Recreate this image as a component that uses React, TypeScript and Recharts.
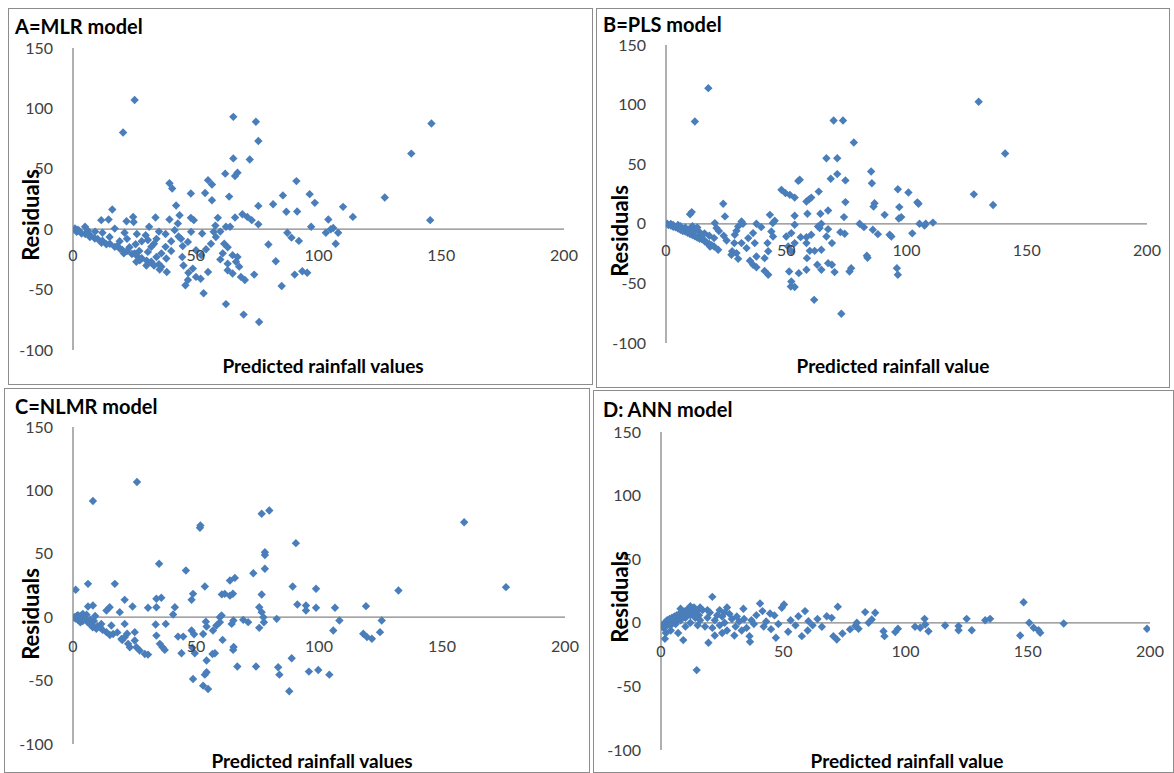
import React from 'react';
import { ScatterChart, Scatter, XAxis, YAxis, ReferenceLine } from 'recharts';

const xTicks = [0, 50, 100, 150, 200];
const yTicks = [-100, -50, 0, 50, 100, 150];

// A = MLR model: [predicted rainfall, residual]
const mlrPoints: [number, number][] = [
  [25.1, 107], [20.4, 80], [65.3, 93], [74.5, 89], [75.5, 73], [65.3, 58.6], [72, 57.7], [62, 46], [67, 46.7], [66, 44],
  [39.3, 38], [40.4, 33.7], [48, 29.6], [55, 40.6], [56.6, 37], [53.8, 30], [56.6, 24], [63.6, 27], [42, 19.6], [43.4, 11.6],
  [48, 9.4], [49.2, 7.5], [16, 16.3], [11.5, 7.5], [14.5, 8], [21.8, 6.6], [24.5, 10.2], [24.7, 6], [33.6, 9.7], [39.3, 8],
  [59, 9.4], [62.3, 2], [66, 9.7], [69, 12.4], [71, 10.2], [72.8, 7.5], [75.5, 19.3], [75.5, 4], [81.5, 20.7], [85.5, 28],
  [86.9, 14.4], [91, 39.8], [91.3, 14.6], [96.4, 29], [98.5, 21.8], [97, 2], [104, 8], [105, 0], [106, 1], [110, 18.5],
  [107, -12], [87.3, -3], [89, -7], [92, -9.7], [79.6, -12.7], [82.6, -26.5], [85, -47], [90.3, -37.6], [93.4, -34.8], [95.4, -36],
  [73.8, -37.6], [70, -42], [69.5, -70.7], [75.8, -76.8], [62.3, -62], [53.2, -53], [45.8, -46.4], [46.8, -42], [50.1, -39.5], [52, -41],
  [48.8, -32.6], [55, -35.4], [61, -20], [61.6, -12], [63, -28.5], [65, -21.5], [66.4, -27], [67.7, -31], [65, -36.7], [68.4, -39.5],
  [63, -34], [64, 2], [57.3, -2.2], [58.2, -6.4], [56.2, -12], [54.2, -16.6], [52.2, -21.5], [50.1, -17.4], [46.8, -10.5], [44.7, -14],
  [44.5, -23], [48.1, -2.2], [52.6, -3.6], [42.7, 4.7], [41.4, -0.8], [37.7, -4], [37.7, -14.6], [38, -24.3], [38.2, -35.4], [35.3, -33.4],
  [34, -23], [31.9, -14.6], [30.5, -9], [29.6, -5], [30.5, -18.8], [31.9, -27], [29.9, -30], [27.2, -25.7], [25.8, -27], [25.1, -20],
  [25.5, -12.4], [21, -3], [20.7, -20], [17, 0.5], [14.9, -6.4], [17, -14.6], [19, -16], [13.6, -12.4], [11.6, -11.3], [8.9, -7.7],
  [6.9, -6.4], [4.9, 2], [3.5, -3.6], [1.5, -2.2], [0.8, 0.6],
  [146, 87.5], [137.8, 62.6], [127, 26.2], [114, 10.2], [145.5, 7.5], [108, -3], [103, -3],
  [2.5, -1.5], [5, -4], [7, -5], [10, -8], [12, -9.5], [15, -12], [18, -14], [20, -17], [22, -18], [24, -20.5],
  [26, -22], [28, -24], [30, -26], [32, -28], [33, -30], [35, -29], [36, -31], [23, -15], [27, -18], [19, -10],
  [22, -8], [28, -10], [33, -12], [34, -8], [36, -20], [40, -10], [40, -18], [43, -6], [45, -30], [47, -36],
  [44, -8], [58, 3], [60, -2], [60, -25], [63, -15], [67, -23], [35, -2], [31, 2], [26, -4], [12, -3],
  [9, -2], [6, -1], [2, -0.5],
];

// B = PLS model
const plsPoints: [number, number][] = [
  [17.6, 113.8], [12, 85.8], [69.7, 86.7], [73.6, 86.7], [78.1, 68.2], [66.7, 55], [71.2, 55], [71.2, 41.7], [68.5, 37.8], [74.6, 36.4],
  [85.3, 43.9], [85.6, 34], [96.4, 29], [100.8, 26.3], [55.6, 37], [55, 36], [48, 28.5], [49.7, 25.7], [51.5, 24.3], [53.5, 22],
  [63.5, 27], [60.4, 22], [58.4, 18.7], [59.5, 20.5], [74.6, 18.2], [86.7, 17.3], [86.3, 14.5], [97, 14], [105, 16.8], [90.9, 7.5],
  [97.8, 5.6], [96.8, 4.5], [67.4, 11.2], [64.2, 8.4], [58.8, 8.4], [53.5, 6.7], [43.2, 7.5], [45.2, 2.5], [23.8, 16.8], [24.5, 6.2],
  [10.7, 9.8], [10, 8], [20.3, 0.6], [21, -3.6], [31.4, 2], [32, 0], [37.6, 0], [39.6, -2.8], [44.4, 0.6], [74, 5.6],
  [80.5, 0], [82.3, -2.8], [86, -5], [88.1, -8.7], [93, -9.2], [93.7, -10.6], [102.4, -8], [105.4, 0], [107.5, -1.4], [111, 1],
  [72.5, -7], [74.3, -8.4], [67.4, -4.5], [66.7, -10.6], [69, -16.2], [64.6, 0], [63.2, -2.2], [63.9, -3.6], [60.4, -9.2], [58.4, -11.2],
  [58.4, -16.2], [59.8, -22.7], [61.8, -22.7], [64.6, -21.8], [58.6, -28.8], [58.4, -38.6], [55.2, -41.4], [51.2, -40], [52.1, -48.4], [51.9, -52.6],
  [53.5, -53], [61.6, -63.8], [72.9, -75.5], [69, -34.4], [70.1, -40.5], [62.9, -34.4], [64.6, -38.6], [77, -37.2], [76.3, -40], [83.5, -26.8],
  [83.8, -28.5], [96, -37.2], [96.4, -42.8], [67.4, -33], [56, -11.2], [52.1, -7.8], [50, -10.6], [53.5, -16.2], [50.8, -19], [52.1, -23],
  [53.5, -0.8], [43.8, -6.4], [44.5, -10.6], [42.2, -16.2], [42.5, -23], [41, -28.8], [42.5, -42.8], [41, -39.5], [37.6, -27.4], [36.2, -34.4],
  [37.6, -36.4], [34.9, -31], [36.9, -16.2], [36.2, -7.8], [34.2, -12], [33.5, -20.4], [31.4, -16.2], [29.3, -5.9], [30, -2.2], [28.6, -9.2],
  [28.4, -16.2], [29.3, -24.6], [30, -29.4], [27.2, -26], [27.5, -23], [25.2, -14], [21.7, -21.8], [18.3, -19], [16.2, -14.8], [14.8, -9.2],
  [130, 102.4], [141, 59], [128, 24.7], [136, 15.8], [104.5, 18], [108, 0],
  [0.5, 0], [1, -1], [2, -1.5], [3, -2.5], [4, -3], [5, -4], [6, -5], [7, -6], [8, -6.5], [9, -7.5],
  [10, -8.5], [11, -9.5], [12, -10.5], [13, -11.5], [14, -12.5], [15, -13], [16, -14], [17, -16], [18, -17], [19, -18],
  [20, -19], [3, -1], [6, -2], [8, -3], [10, -4], [12, -6], [14, -7], [11, -2], [16, -8], [18, -10],
  [20, -12], [22, -6], [24, -10], [5, -1], [2, -0.2], [13, -3],
];

// C = NLMR model
const nlmrPoints: [number, number][] = [
  [26, 106.6], [8.1, 91.6], [51.8, 72.4], [51.6, 70.5], [76.7, 81.6], [79.8, 84.2], [90.6, 58.4], [78, 51.3], [78, 49], [78, 38.2],
  [73.3, 34.7], [35, 42.1], [45.9, 36.8], [65.8, 31], [63.8, 29], [61.7, 18.4], [63.8, 17], [65, 18.5], [60.5, 18], [53.6, 24.2],
  [48.8, 18.4], [48.2, 13.7], [76.7, 17.9], [89.3, 24.2], [98.8, 22.4], [91.2, 10], [94.7, 9.2], [94.7, 5.3], [98.8, 7.4], [106.5, 7.4],
  [108.3, -2.6], [105.8, -10.5], [104.2, -45.3], [99.7, -41.6], [95.9, -42.9], [87.9, -58.4], [88.9, -32.4], [83.9, -45.3], [83.4, -39.5], [74.4, -38.9],
  [66.8, -38.9], [65.1, -25.8], [65.3, -23.5], [60.8, -17.9], [57.7, -28.4], [56.7, -29], [54.3, -34.2], [54.3, -43.4], [53.6, -45.3], [52.9, -54],
  [54.9, -56.6], [48.8, -48.7], [49.5, -28.4], [48.5, -24], [44.1, -28.4], [42.7, -15.3], [44.8, -15.3], [48.2, -10.5], [49.2, -13.5], [52.9, -13.2],
  [54.3, -7.4], [54, -3.5], [56.9, -10.5], [58.3, -6.6], [59.7, 0], [60.4, 1.3], [59.7, -4], [64.5, -5.3], [65.2, -2.6], [69.2, -2.1],
  [71.2, -3.9], [75.7, -8.4], [75.7, 7.9], [76.7, 4], [77.4, 0], [77.6, -4], [82.8, -1.3], [41.4, 7.9], [40.7, 2.1], [37.7, -5.3],
  [33.6, -5.8], [33.9, -14.5], [35.3, -21], [36.4, -23.7], [37.3, -25.8], [33.9, 14.5], [35.9, 15.3], [33.9, 7.9], [30.5, 7.4], [24.2, 8.4],
  [21, 13.7], [21, -5.3], [17, 26.3], [14.9, 7.9], [13.6, 5.3], [8.1, 9.2], [6.1, 8.4], [6.1, 26.3], [1.1, 21.6], [25.1, -11.8],
  [25.1, -18.4], [22.4, -21], [23.1, -23.7], [25.8, -23.7], [27.1, -26.3], [29.2, -29], [30.5, -29.5], [21, -15.8], [19.7, -17.1], [16.3, -13.2],
  [15, -14], [13.6, -11.8], [15.6, -6.6], [11.5, -5.3], [9.5, -9.2], [8, -8], [6.8, -5.3],
  [159, 74.9], [176, 23.7], [132.3, 21], [119.1, 8.7], [125.5, -2.6], [124.8, -11.8], [118, -13.1], [119.5, -15.7], [121.5, -17],
  [0.5, 0], [1, -1], [1.5, 1], [2, -2], [2.5, 0.5], [3, -2.5], [3.5, 1.5], [4, -3], [4.5, 0], [5, -1.5],
  [5.5, 2], [6, -4], [7, -2], [7.5, -6], [8.5, -3], [9, 1], [10, -7], [11, -8], [12, -10], [3, -4],
  [2, 1.5], [4, 2.5], [18, -12], [20, -18], [22, -13], [19, 4],
];

// D: ANN model
const annPoints: [number, number][] = [
  [21, 20.4], [148.3, 16.2], [14.6, -37.2], [19.4, -15.7], [9.1, -13.6], [1.6, -12.6], [36.4, -14.9], [36.2, -10.5], [40.5, 15.2], [33.7, 11],
  [50.3, 14.4], [49.4, 11.8], [41.5, 9.2], [44.6, 7.3], [46.4, 5.8], [58.9, 9.2], [56.2, 5.2], [60.3, 1.3], [72.3, 12.6], [67.8, 5.2],
  [69.8, 3.9], [70.5, -10.5], [71.9, -13.1], [65.8, -3.1], [74.2, -8.4], [77.3, -5.2], [79.4, -2.6], [80.8, -4.7], [80.1, 0], [83.5, 8.4],
  [87.6, 7.9], [86.2, 2.6], [84.9, 0], [91, -6.6], [91.4, -10.5], [95.8, -7.3], [96.9, -4.7], [103.9, -3.1], [106, -3.9], [107.8, 3.1],
  [108.1, -1.3], [109.4, -6.6], [116.2, -2.1], [121.7, -2.6], [121.7, -5.8], [125, 3.1], [127.1, -5.8], [132.6, 2], [134.6, 3.1], [146.9, -10],
  [150.6, 0], [152.4, -3.9], [154.4, -5.8], [155.1, -7.9], [164.7, -0.5], [198.8, -4.7],
  [0.5, -2], [1, -4], [1.5, 0], [2, -3], [2.5, 2], [3, -1], [3.5, 3], [4, -2], [4.5, 4], [5, 1],
  [5.5, 5], [6, -1], [6.5, 6], [7, 3], [7.5, 7], [8, 2], [8.5, 8], [9, 5], [9.5, 9], [10, 4],
  [10.5, 10], [11, 7], [11.5, 11], [12, 6], [12.5, 10], [13, 8], [13.5, 12], [14, 4], [14.5, 9], [15, -2],
  [15.5, 6], [16, 2], [17, 10], [18, -3], [19, 4], [20, 8], [21, -4], [22, 2], [23, 6], [24, -2],
  [25, 5], [26, 0], [27, -6], [28, 7], [29, 3], [30, -10], [30.5, -3], [31, 5], [32, 1], [33, -6],
  [34, 3], [35, -4], [37, 2], [38, -1], [39, 6], [42, -3], [43, 1], [45, -5], [47, -11.8], [48, -1],
  [52, -7], [53, 2], [55, -2], [57.6, -10.5], [60, -6], [62, -2], [64, 3], [4, -6], [7, -8], [2, -8],
  [12, 0], [10, -3], [25, -8], [22, -10], [24, 10], [26, 8], [27, 12], [19, 10], [16, 12], [12, 13],
  [8, 11],
];

const POINT_COLOR = '#4a7ebb';
const AXIS_COLOR = '#868686';
const TEXT_COLOR = '#404040';
const FONT = 'Lato, "Open Sans", sans-serif';

const Diamond = (props: any) => {
  const { cx, cy } = props;
  if (cx == null || cy == null) return null;
  const r = 4.2;
  return <path d={`M${cx},${cy - r}L${cx + r},${cy}L${cx},${cy + r}L${cx - r},${cy}Z`} fill={POINT_COLOR} />;
};

type PanelCfg = {
  title: string;
  xTitle: string;
  points: [number, number][];
  left: number; top: number; w: number; h: number;
  plot: { l: number; r: number; t: number; b: number };
  titleXY: [number, number];
  residXY: [number, number];
  xTitleXY: [number, number];
  xLabelDy: number;
};

const panels: PanelCfg[] = [
  {
    title: 'A=MLR model', xTitle: 'Predicted rainfall values', points: mlrPoints,
    left: 8, top: 8, w: 585, h: 377, plot: { l: 65, r: 556, t: 40, b: 342 },
    titleXY: [7, 26], residXY: [22, 207], xTitleXY: [315, 365], xLabelDy: 32,
  },
  {
    title: 'B=PLS model', xTitle: 'Predicted rainfall value', points: plsPoints,
    left: 596, top: 8, w: 574, h: 380, plot: { l: 70, r: 551, t: 37, b: 335 },
    titleXY: [7, 24], residXY: [23, 223], xTitleXY: [297, 365], xLabelDy: 32,
  },
  {
    title: 'C=NLMR model', xTitle: 'Predicted rainfall values', points: nlmrPoints,
    left: 4, top: 388, w: 586, h: 385, plot: { l: 69, r: 561, t: 39, b: 356 },
    titleXY: [11, 26], residXY: [26, 226], xTitleXY: [308, 380], xLabelDy: 35,
  },
  {
    title: 'D: ANN model', xTitle: 'Predicted rainfall value', points: annPoints,
    left: 593, top: 390, w: 581, h: 383, plot: { l: 68, r: 557, t: 42, b: 360 },
    titleXY: [10, 27], residXY: [26, 207], xTitleXY: [314, 378], xLabelDy: 34,
  },
];

const Panel = ({ cfg }: { cfg: PanelCfg }) => {
  const { plot, w, h } = cfg;
  const zeroY = plot.t + (plot.b - plot.t) * (150 / 250);
  const data = cfg.points.map(([x, y]) => ({ x, y }));
  const XTick = (props: any) => {
    const { x, payload } = props;
    return (
      <text x={x} y={zeroY + cfg.xLabelDy} textAnchor="middle" fill={TEXT_COLOR} fontSize={16} fontFamily={FONT}>
        {payload.value}
      </text>
    );
  };
  return (
    <div
      style={{
        position: 'absolute', left: cfg.left, top: cfg.top, width: w, height: h,
        boxSizing: 'border-box', border: '1px solid #8c8c8c', background: '#fff', overflow: 'hidden',
      }}
    >
      <div style={{ position: 'absolute', left: -1, top: -1 }}>
        <ScatterChart
          width={w}
          height={h}
          margin={{ top: plot.t, right: w - plot.r, bottom: h - plot.b - 1, left: 0 }}
        >
          <XAxis
            type="number" dataKey="x" domain={[0, 200]} ticks={xTicks} height={1}
            axisLine={false} tickLine={false} tick={XTick} allowDataOverflow
          />
          <YAxis
            type="number" dataKey="y" domain={[-100, 150]} ticks={yTicks} width={plot.l}
            axisLine={{ stroke: AXIS_COLOR, strokeWidth: 1.3 }} tickLine={false} tickSize={0} tickMargin={20}
            tick={{ fill: TEXT_COLOR, fontSize: 16, fontFamily: FONT }} allowDataOverflow
          />
          <ReferenceLine y={0} stroke={AXIS_COLOR} strokeWidth={1.3} />
          <Scatter data={data} shape={Diamond} isAnimationActive={false} />
        </ScatterChart>
      </div>
      <svg width={w} height={h} style={{ position: 'absolute', left: -1, top: -1, pointerEvents: 'none' }}>
        <text x={cfg.titleXY[0]} y={cfg.titleXY[1]} fontFamily={FONT} fontWeight={700} fontSize={20} fill="#000">
          {cfg.title}
        </text>
        <text
          x={cfg.residXY[0]} y={cfg.residXY[1]} fontFamily={FONT} fontWeight={700} fontSize={22} fill="#000"
          textAnchor="middle" dominantBaseline="central" transform={`rotate(-90 ${cfg.residXY[0]} ${cfg.residXY[1]})`}
        >
          Residuals
        </text>
        <text x={cfg.xTitleXY[0]} y={cfg.xTitleXY[1]} fontFamily={FONT} fontWeight={700} fontSize={19} fill="#000" textAnchor="middle">
          {cfg.xTitle}
        </text>
      </svg>
    </div>
  );
};

export default function App() {
  return (
    <div style={{ position: 'absolute', left: 0, top: 0, width: 1174, height: 773, background: '#fff', overflow: 'hidden' }}>
      {panels.map((p) => (
        <Panel key={p.title} cfg={p} />
      ))}
    </div>
  );
}
